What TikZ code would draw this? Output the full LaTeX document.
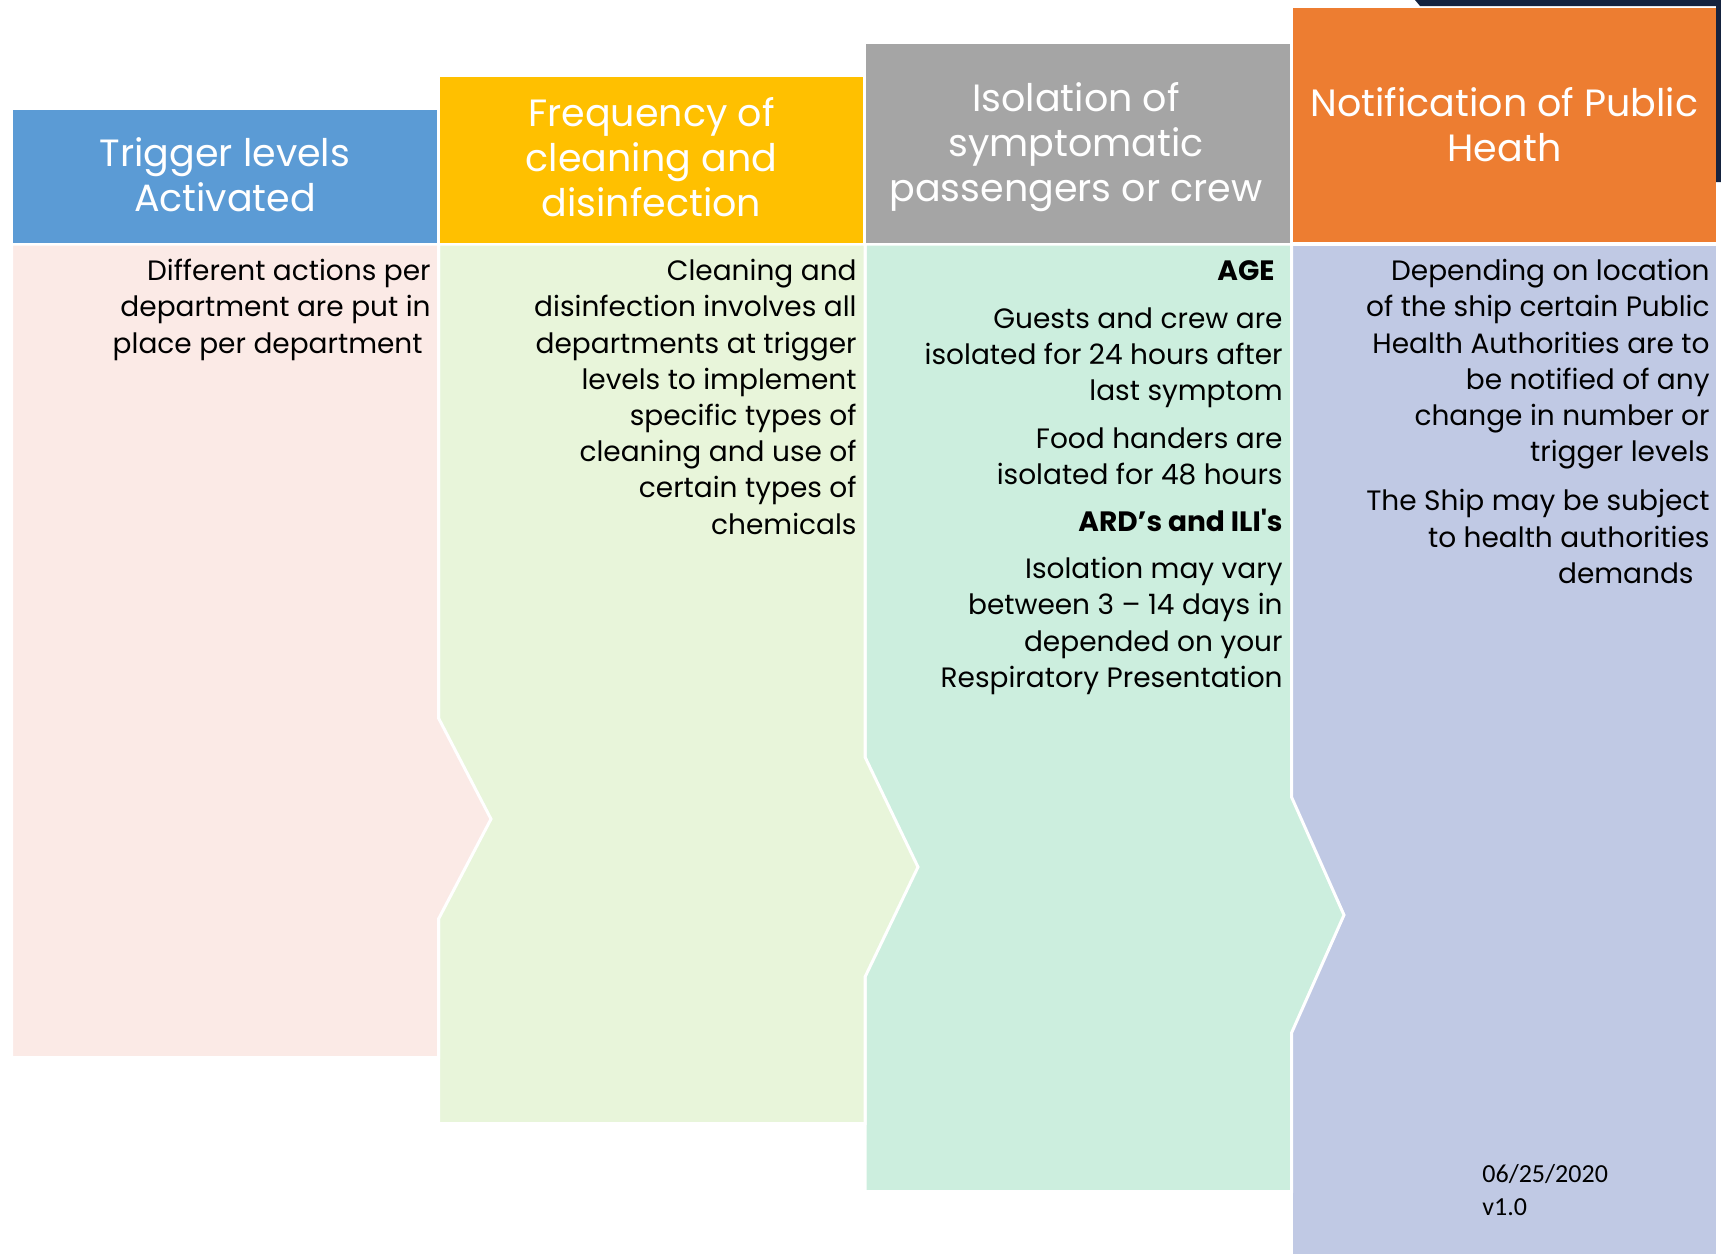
\documentclass[tikz,border=0pt]{standalone}
\usepackage{fontspec}
\setmainfont{Poppins}
\newfontfamily\datefont{Carlito}
\definecolor{hblue}{HTML}{5B9BD5}
\definecolor{hyellow}{HTML}{FFC000}
\definecolor{hgray}{HTML}{A5A5A5}
\definecolor{horange}{HTML}{ED7D31}
\definecolor{bpink}{HTML}{FBEAE6}
\definecolor{bgreen}{HTML}{E8F5DA}
\definecolor{bmint}{HTML}{CCEEDE}
\definecolor{blav}{HTML}{C0C9E4}
\definecolor{navy}{HTML}{15233F}
\begin{document}
\begin{tikzpicture}[x=0.5pt,y=-0.5pt,
    body/.style={fill=#1,draw=white,line width=1.5pt},
    headtxt/.style={text=white,align=center,inner sep=0pt,font=\fontsize{19}{22.5}\selectfont},
    bodytxt/.style={anchor=north east,align=right,inner sep=0pt,font=\fontsize{14}{18.1}\selectfont}]
  \useasboundingbox (0,0) rectangle (1721,1254);
  \fill[navy] (1415,0) -- (1721,0) -- (1721,182) -- (1716,182) -- (1716,6) -- (1420,6) -- cycle;
  \path[body=blav] (1291.5,244) -- (1717.5,244) -- (1717.5,1262) -- (1291.5,1262) -- cycle;
  \path[body=bmint] (865,244) -- (1291.5,244) -- (1291.5,797) -- (1344,915) -- (1291.5,1033)
    -- (1291.5,1191.5) -- (865,1191.5) -- cycle;
  \path[body=bgreen] (438.5,244) -- (865,244) -- (865,757) -- (918,867) -- (865,977)
    -- (865,1123.5) -- (438.5,1123.5) -- cycle;
  \path[body=bpink] (11.5,244) -- (438.5,244) -- (438.5,718) -- (491,819) -- (438.5,919)
    -- (438.5,1057.5) -- (11.5,1057.5) -- cycle;
  \fill[hblue] (13,110) rectangle (437,243);
  \fill[hyellow] (440,77) rectangle (863,243);
  \fill[hgray] (866,44) rectangle (1290,243);
  \fill[horange] (1293,8) rectangle (1716,242);
  \node[headtxt] (trig) at (225,175) {Trigger levels\\Activated};
  \node[headtxt] (freq) at (651.5,157) {Frequency of\\cleaning and\\disinfection};
  \node[headtxt] (isol) at (1076,147) {Isolation of\\symptomatic\\passengers or crew};
  \node[headtxt] (notif) at (1504.5,125) {Notification of Public\\Heath};
  \node[bodytxt] (trigtxt) at (431,259) {Different actions per\\department are put in\\place per department\hspace*{4pt}};
  \node[bodytxt] (freqtxt) at (857,259) {Cleaning and\\disinfection involves all\\departments at trigger\\levels to implement\\specific types of\\cleaning and use of\\certain types of\\chemicals};
  \node[bodytxt] (isoltxt) at (1283,260) {\textbf{AGE}\hspace*{4pt}\\[6pt]
    Guests and crew are\\isolated for 24 hours after\\last symptom\\[5.5pt]
    Food handers are\\isolated for 48 hours\hspace*{4pt}\\[5.5pt]
    \textbf{ARD’s and ILI\textquotesingle s}\\[5.5pt]
    Isolation may vary\\between 3 -- 14 days in\\depended on your\\Respiratory Presentation};
  \node[bodytxt] (notiftxt) at (1710,259) {Depending on location\\of the ship certain Public\\Health Authorities are to\\be notified of any\\change in number or\\trigger levels\\[6.5pt]
    The Ship may be subject\\to health authorities\\demands\hspace*{8pt}};
  \node[anchor=north west,align=left,inner sep=0pt,font=\datefont\fontsize{13}{16.5}\selectfont] (date) at (1482,1164) {06/25/2020\\v1.0};
\end{tikzpicture}
\end{document}
